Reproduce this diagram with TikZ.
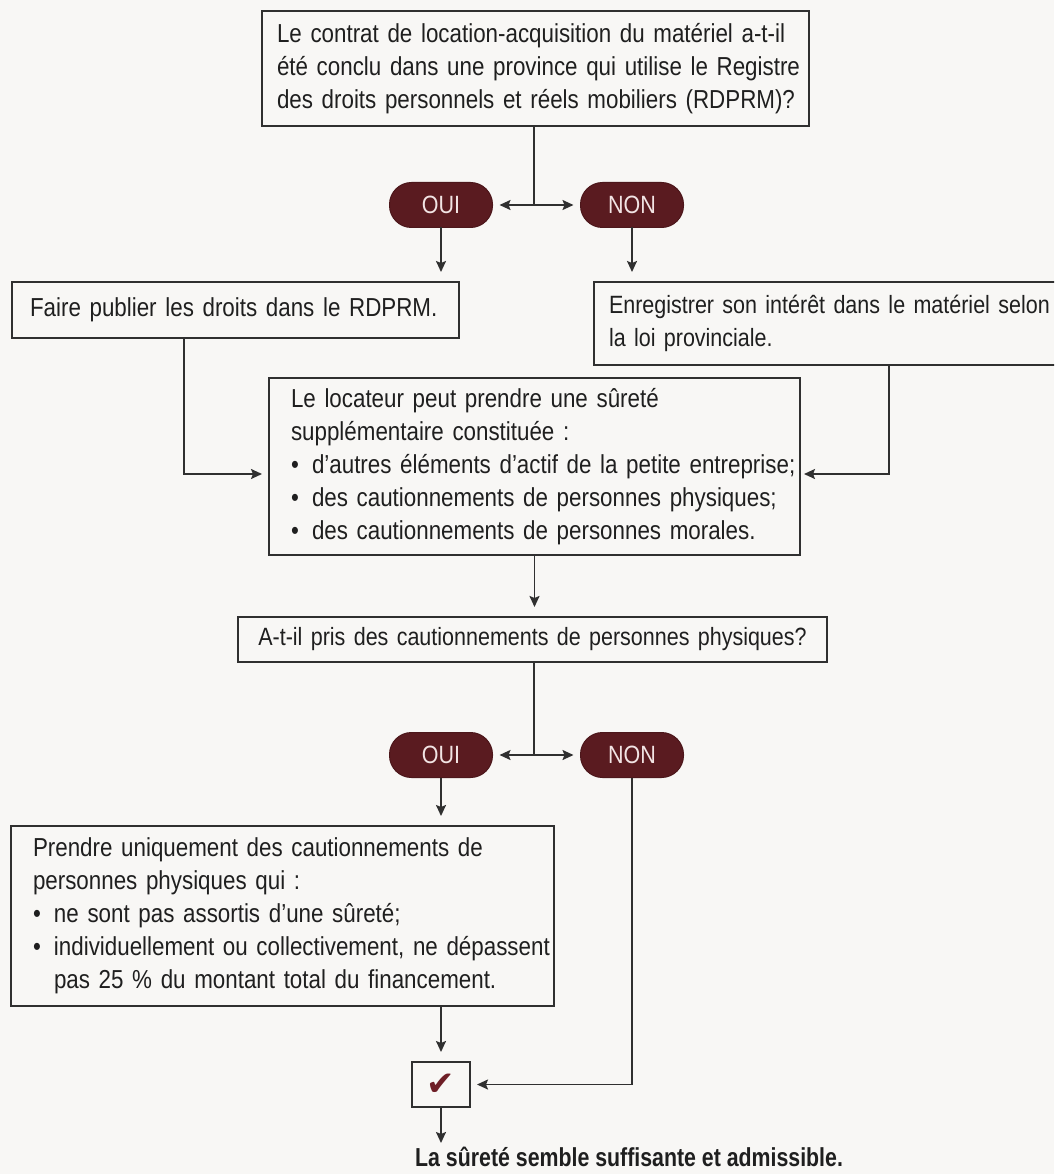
\documentclass[tikz,border=0pt]{standalone}
\usepackage{fontspec}
\setmainfont[FakeStretch=0.86]{Liberation Sans}
\newfontfamily\finfont[FakeStretch=0.82]{Liberation Sans Bold}
\newfontfamily\symfont{DejaVu Sans}
\usetikzlibrary{arrows.meta}
\definecolor{bgc}{HTML}{F8F7F5}
\definecolor{lc}{HTML}{303030}
\definecolor{tc}{HTML}{1F1F1F}
\definecolor{pillc}{HTML}{5A1B20}
\definecolor{pilltxt}{HTML}{F2E4E4}
\definecolor{chkc}{HTML}{6E1E26}
\newcommand{\bul}{\makebox[21pt][l]{•}}
\newcommand{\oneline}[1]{\mbox{#1}}
\newcommand{\boxfont}[1]{\fontsize{#1}{33}\selectfont}
\newcommand{\conclfont}{\finfont\fontsize{26}{26}\selectfont}
\begin{document}
\begin{tikzpicture}[x=1pt,y=-1pt,
  bx/.style={draw=lc, line width=1.8pt, inner xsep=15pt, inner ysep=0pt, align=left,
    anchor=north west, outer sep=0pt, text=tc, font=\boxfont{26}},
  pill/.style={fill=pillc, draw=pillc!85!black, line width=1pt, rounded corners=22pt,
    minimum width=103pt, minimum height=45pt, inner sep=0pt, outer sep=0pt,
    text=pilltxt, font=\fontsize{25}{25}\selectfont},
  ln/.style={draw=lc, line width=1.8pt},
  arr/.style={ln, -{Stealth[length=11pt,width=10pt,inset=2pt]}, shorten >=7pt},
  arrd/.style={arr, shorten >=10pt}]
\useasboundingbox (0,0) rectangle (1054,1174);
\clip (0,0) rectangle (1054,1174);
\fill[bgc] (0,0) rectangle (1054,1174);

% top question
\node[bx, text width=517pt, minimum height=115pt] (q1) at (262,11)
  {\oneline{Le contrat de location-acquisition du matériel a-t-il}\\
   \oneline{été conclu dans une province qui utilise le Registre}\\
   \oneline{des droits personnels et réels mobiliers (RDPRM)?}};
\node[pill] (oui1) at (441,205) {OUI};
\node[pill] (non1) at (632,205) {NON};
\coordinate (j1) at (534,205);
\draw[ln] (q1.south -| j1) -- (j1);
\draw[arr] (j1) -- (oui1.east);
\draw[arr] (j1) -- (non1.west);

% first answers
\node[bx, inner xsep=18pt, text width=411pt, minimum height=56pt] (pub) at (12,282)
  {\oneline{Faire publier les droits dans le RDPRM.}};
\node[bx, inner xsep=15pt, text width=470pt, minimum height=83pt, font=\boxfont{25}] (enr) at (594,282)
  {\oneline{Enregistrer son intérêt dans le matériel selon}\\
   \oneline{la loi provinciale.}};
\draw[arrd] (oui1.south) -- (oui1.south |- pub.north);
\draw[arrd] (non1.south) -- (non1.south |- enr.north);

% middle box
\node[bx, inner xsep=22pt, text width=487pt, minimum height=177pt] (loc) at (269,378)
  {\oneline{Le locateur peut prendre une sûreté}\\
   \oneline{supplémentaire constituée :}\\
   \oneline{\bul d’autres éléments d’actif de la petite entreprise;}\\
   \oneline{\bul des cautionnements de personnes physiques;}\\
   \oneline{\bul des cautionnements de personnes morales.}};
\coordinate (c1) at (184,474);
\coordinate (c2) at (889,474);
\draw[arr] (pub.south -| c1) |- (loc.west |- c1);
\draw[arr, shorten >=4pt] (enr.south -| c2) |- (loc.east |- c2);

% second question
\node[bx, align=center, text width=559pt, minimum height=45pt, font=\boxfont{25}] (q2) at (238,617)
  {\oneline{A-t-il pris des cautionnements de personnes physiques?}};
\draw[arrd] (loc.south) -- (loc.south |- q2.north);
\node[pill] (oui2) at (441,755) {OUI};
\node[pill] (non2) at (632,755) {NON};
\coordinate (j2) at (534,755);
\draw[ln] (q2.south -| j2) -- (j2);
\draw[arr] (j2) -- (oui2.east);
\draw[arr] (j2) -- (non2.west);

% conditions
\node[bx, inner xsep=22pt, text width=499pt, minimum height=180pt] (pr) at (11,826)
  {\oneline{Prendre uniquement des cautionnements de}\\
   \oneline{personnes physiques qui :}\\
   \oneline{\bul ne sont pas assortis d’une sûreté;}\\
   \oneline{\bul individuellement ou collectivement, ne dépassent}\\
   \oneline{\hspace*{21pt}pas 25 \% du montant total du financement.}};
\draw[arrd] (oui2.south) -- (oui2.south |- pr.north);

% check
\node[draw=lc, line width=1.8pt, minimum width=58pt, minimum height=45pt, inner sep=0pt,
  outer sep=0pt, text=chkc, font=\symfont\fontsize{34}{34}\selectfont] (chk) at (441,1084.5) {✔};
\draw[arrd] (pr.south -| chk) -- (chk.north);
\draw[arr] (non2.south) |- (chk.east);

% conclusion
\node[anchor=west, inner sep=0pt, text=tc, font=\conclfont] (fin) at (415,1157)
  {La sûreté semble suffisante et admissible.};
\coordinate (f1) at (441,1145);
\draw[arr, shorten >=2pt] (chk.south) -- (f1);
\end{tikzpicture}
\end{document}
